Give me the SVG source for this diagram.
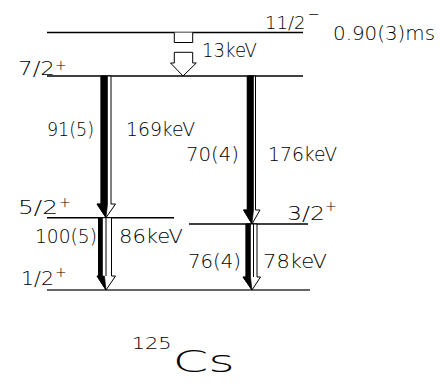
<svg xmlns="http://www.w3.org/2000/svg" width="440" height="388" viewBox="0 0 440 388">
<style>
text{font-family:"DejaVu Sans","Liberation Sans",sans-serif;fill:#000;font-weight:200}
.lbl{font-size:19px}
.spin{font-size:20px}
.sup{font-size:14px}
.lvl{stroke:#000;stroke-width:1.4;fill:none}
.out{fill:#fff;stroke:#000;stroke-width:1}
.blk{fill:#000;stroke:#000;stroke-width:0.6}
</style>
<rect width="440" height="388" fill="#fff"/>
<g id="level-11-2">
<line class="lvl" x1="47" y1="32.5" x2="303" y2="32.5"/>
<text class="spin"><tspan x="265" y="29" font-size="18">11/2</tspan><tspan class="sup" x="308" y="19" font-size="12">−</tspan></text>
<text class="lbl" x="333" y="40" textLength="102" lengthAdjust="spacingAndGlyphs">0.90(3)ms</text>
</g>
<g id="level-7-2">
<line class="lvl" x1="47" y1="76" x2="303" y2="76"/>
<text class="spin"><tspan x="18" y="75" textLength="37" lengthAdjust="spacingAndGlyphs">7/2</tspan><tspan class="sup" x="55" y="70">+</tspan></text>
</g>
<g id="level-5-2">
<line class="lvl" x1="47" y1="217.7" x2="174" y2="217.7"/>
<text class="spin"><tspan x="18" y="214" textLength="40" lengthAdjust="spacingAndGlyphs">5/2</tspan><tspan class="sup" x="59" y="207">+</tspan></text>
</g>
<g id="level-3-2">
<line class="lvl" x1="189" y1="224" x2="308" y2="224"/>
<text class="spin"><tspan x="287" y="220" textLength="38" lengthAdjust="spacingAndGlyphs">3/2</tspan><tspan class="sup" x="325" y="211">+</tspan></text>
</g>
<g id="level-1-2">
<line x1="47" y1="290" x2="310" y2="290" stroke="#666" stroke-width="2"/>
<text class="spin"><tspan x="21" y="285" textLength="33" lengthAdjust="spacingAndGlyphs">1/2</tspan><tspan class="sup" x="55" y="277">+</tspan></text>
</g>
<g id="connectors">
<g id="t13">
<polyline class="out" points="174.3,32.5 174.3,42.5 192.7,42.5 192.7,32.5"/>
<polygon class="out" points="174.3,52.3 192.7,52.3 192.7,63 196.3,63 183,76 170.5,63 174.3,63"/>
<text class="lbl" x="202" y="57" textLength="55" lengthAdjust="spacingAndGlyphs">13keV</text>
</g>
<g id="t169">
<polygon class="out" points="101,76 111,76 111,204 115.5,204 106,217.7 97,204 101,204"/>
<polygon class="blk" points="101,76 107.5,76 107.5,204 106,217.7 97,204 101,204"/>
<text class="lbl" x="47" y="136" textLength="47" lengthAdjust="spacingAndGlyphs">91(5)</text>
<text class="lbl" x="126" y="136" textLength="69" lengthAdjust="spacingAndGlyphs">169keV</text>
</g>
<g id="t176">
<polygon class="out" points="247.3,76 255.5,76 255.5,210 260,210 252,224 243.5,210 247.3,210"/>
<polygon class="blk" points="247.3,76 253.5,76 253.5,210 252,224 243.5,210 247.3,210"/>
<text class="lbl" x="186" y="161" textLength="53" lengthAdjust="spacingAndGlyphs">70(4)</text>
<text class="lbl" x="268" y="161" textLength="69" lengthAdjust="spacingAndGlyphs">176keV</text>
</g>
<g id="t86">
<polygon class="out" points="98.5,217.7 111.5,217.7 111.5,276 115.5,276 106,290 97,276 98.5,276"/>
<polygon class="blk" points="98.5,217.7 102.5,217.7 102.5,276 104.5,276 106,290 97,276 98.5,276"/>
<line x1="106" y1="217.7" x2="106" y2="276" stroke="#000" stroke-width="1"/>
<text class="lbl" x="35" y="243" textLength="62" lengthAdjust="spacingAndGlyphs">100(5)</text>
<text class="lbl" x="119" y="243" textLength="64" lengthAdjust="spacingAndGlyphs">86keV</text>
</g>
<g id="t78">
<polygon class="out" points="246,224 257,224 257,277 260.5,277 252,290 243,277 246,277"/>
<polygon class="blk" points="246,224 250.5,224 250.5,277 252,290 243,277 246,277"/>
<line x1="253.5" y1="224" x2="253.5" y2="277" stroke="#000" stroke-width="1"/>
<text class="lbl" x="188" y="268" textLength="53" lengthAdjust="spacingAndGlyphs">76(4)</text>
<text class="lbl" x="263" y="268" textLength="64" lengthAdjust="spacingAndGlyphs">78keV</text>
</g>
</g>
<g id="nucleus">
<text><tspan x="131.7" y="349" font-size="15" textLength="40" lengthAdjust="spacingAndGlyphs">125</tspan><tspan x="172.7" y="371.7" font-size="30" textLength="62" lengthAdjust="spacingAndGlyphs">Cs</tspan></text>
</g>
</svg>
